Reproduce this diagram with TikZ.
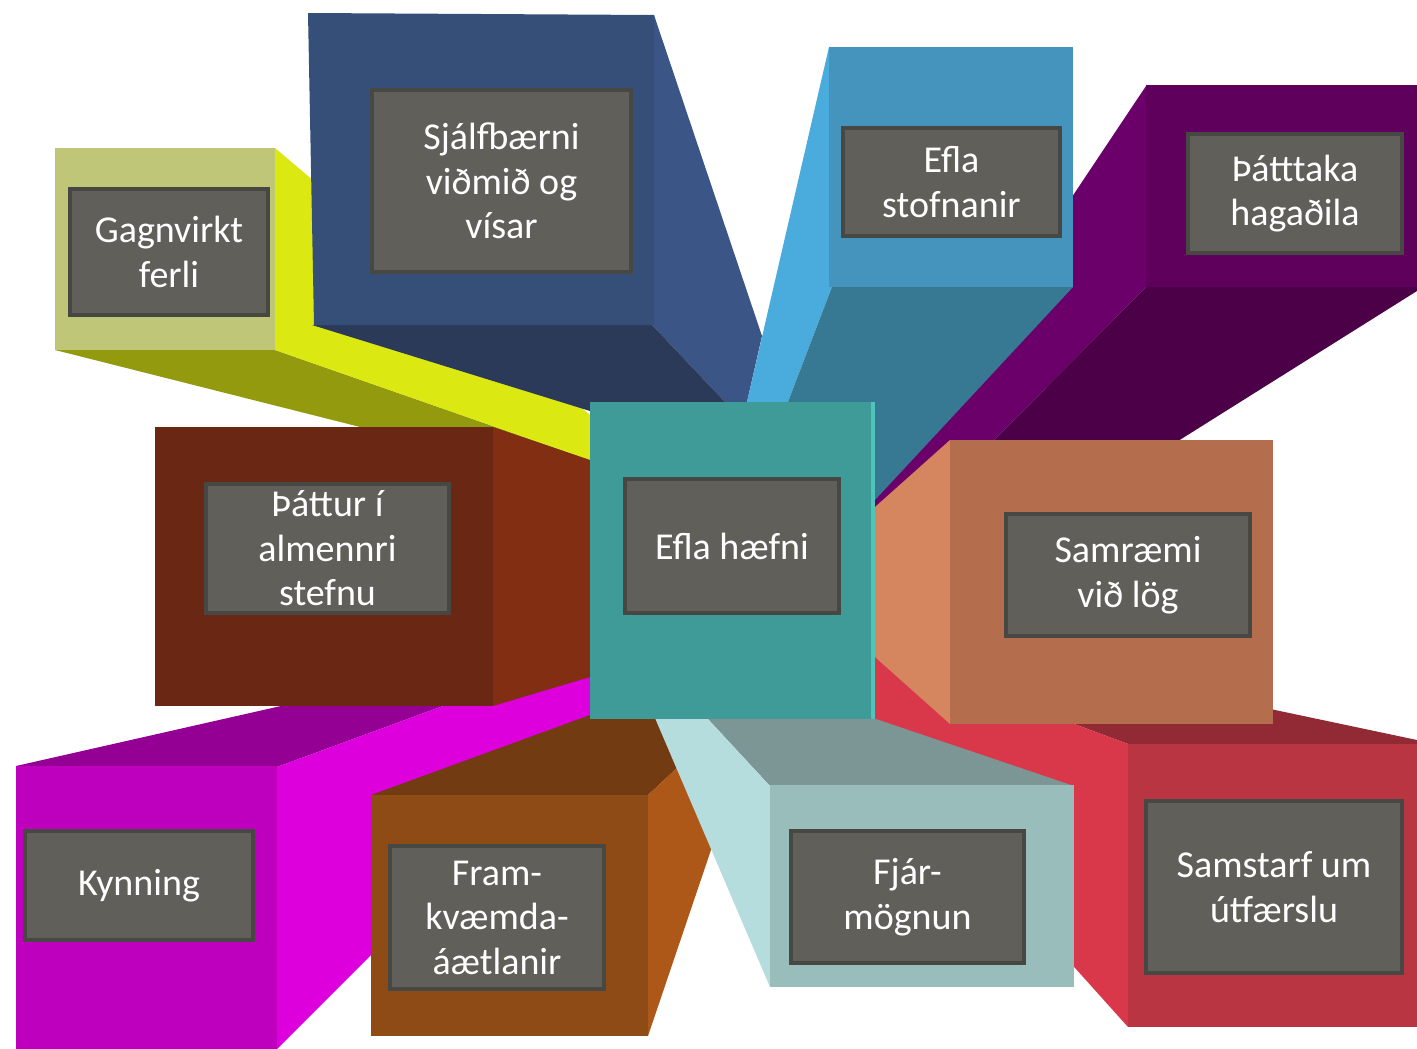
\documentclass[tikz,border=0pt]{standalone}
\usepackage{fontspec}
\setmainfont{Carlito}
\definecolor{yFront}{HTML}{C0C677}
\definecolor{ySide}{HTML}{DCE812}
\definecolor{yBottom}{HTML}{939A0D}
\definecolor{bFront}{HTML}{354F79}
\definecolor{bSide}{HTML}{3A5586}
\definecolor{bBottom}{HTML}{2A3A58}
\definecolor{lbFront}{HTML}{4494BD}
\definecolor{lbSide}{HTML}{4AABDD}
\definecolor{lbBottom}{HTML}{377993}
\definecolor{pFront}{HTML}{5E005C}
\definecolor{pSide}{HTML}{6B006B}
\definecolor{pBottom}{HTML}{4B0048}
\definecolor{brFront}{HTML}{6A2713}
\definecolor{brSide}{HTML}{822E13}
\definecolor{mFront}{HTML}{BE00BE}
\definecolor{mSide}{HTML}{DD00DD}
\definecolor{mTop}{HTML}{930093}
\definecolor{fFront}{HTML}{8F4B16}
\definecolor{fTop}{HTML}{733B12}
\definecolor{fSide}{HTML}{AD5819}
\definecolor{jFront}{HTML}{99BDBB}
\definecolor{jTop}{HTML}{7B9695}
\definecolor{jSide}{HTML}{B5DDDE}
\definecolor{rFront}{HTML}{BA3542}
\definecolor{rSide}{HTML}{D9384B}
\definecolor{rTop}{HTML}{922A35}
\definecolor{oFront}{HTML}{B56E4D}
\definecolor{oSide}{HTML}{D6865E}
\definecolor{cFront}{HTML}{3F9B98}
\definecolor{cEdge}{HTML}{4FC4BA}
\definecolor{lblFill}{HTML}{605F5A}
\definecolor{lblBorder}{HTML}{474744}
\tikzset{
  lbl/.style={draw=lblBorder, fill=lblFill, line width=3.5pt, inner sep=0pt},
  txt/.style={text=white, font=\fontsize{38}{44.5}\selectfont, align=center, inner sep=0pt}
}
\begin{document}
\begin{tikzpicture}[x=1pt,y=-1pt]
\useasboundingbox (0,0) rectangle (1417,1049);
% yellow / Gagnvirkt
\fill[yBottom] (55,350) -- (275,350) -- (590,460) -- (590,485) -- cycle;
\fill[ySide] (275,148) -- (590,415) -- (590,460) -- (275,350) -- cycle;
\fill[yFront] (55,148) rectangle (275,350);
% blue / Sjalfbaerni
\fill[bSide] (654,15) -- (762,336) -- (747,402) -- (725,402) -- (652,325) -- cycle;
\fill[bBottom] (312,325) -- (652,325) -- (725,402) -- (590,402) -- (590,411) -- cycle;
\fill[bFront] (308,13) -- (654,15) -- (654,325) -- (314,325) -- cycle;
% purple / Thatttaka
\fill[pSide] (1146,86) -- (1146,287) -- (875,560) -- (875,492) -- cycle;
\fill[pBottom] (1146,287) -- (1417,287) -- (1417,291) -- (1100,490) -- (875,560) -- cycle;
\fill[pFront] (1146,85) rectangle (1417,287);
% light blue / Efla stofnanir
\fill[lbSide] (829,47) -- (762,337) -- (747,402) -- (788,402) -- (832,287) -- cycle;
\fill[lbBottom] (832,287) -- (1073,287) -- (875,500) -- (875,402) -- (788,402) -- cycle;
\fill[lbFront] (829,47) rectangle (1073,287);
% magenta / Kynning
\fill[mTop] (16,766) -- (277,767) -- (590,652) -- (590,636) -- cycle;
\fill[mSide] (277,767) -- (590,652) -- (590,718) -- (371,955) -- (277,1049) -- cycle;
\fill[mFront] (16,766) rectangle (277,1049);
% brown / Thattur
\fill[brSide] (493,427) -- (590,460) -- (590,677) -- (493,706) -- cycle;
\fill[brFront] (155,427) rectangle (493,706);
% Fram
\fill[fTop] (371,795) -- (590,715) -- (590,718) -- (658,718) -- (678,767) -- (648,795) -- cycle;
\fill[fSide] (648,795) -- (678,767) -- (712,847) -- (648,1036) -- cycle;
\fill[fFront] (371,795) rectangle (648,1036);
% red / Samstarf
\fill[rTop] (875,650) -- (1128,744) -- (1417,744) -- (1417,740) -- (1275,710) -- (1000,640) -- cycle;
\fill[rSide] (875,650) -- (1128,744) -- (1128,1027) -- (875,745) -- cycle;
\fill[rFront] (1128,744) rectangle (1417,1027);
% orange / Samraemi
\fill[oSide] (875,507) -- (950,440) -- (950,724) -- (875,657) -- cycle;
\fill[oFront] (950,440) rectangle (1273,724);
% Fjar
\fill[jTop] (707,718) -- (873,718) -- (1074,786) -- (770,786) -- cycle;
\fill[jSide] (655,718) -- (707,718) -- (770,786) -- (770,987) -- cycle;
\fill[jFront] (770,785) rectangle (1074,987);
% center
\fill[cFront] (590,402) rectangle (875,719);
\fill[cEdge] (871,402) rectangle (875,719);
% label boxes
\node[lbl, minimum width=198pt, minimum height=126pt] (gagnbox) at (169,252) {};
\node[txt] (gagntxt) at (gagnbox) {Gagnvirkt\\ferli};
\node[lbl, minimum width=259pt, minimum height=182pt] (sjalfbox) at (501.5,181) {};
\node[txt] (sjalftxt) at (sjalfbox) {Sjálfbærni\\viðmið og\\vísar};
\node[lbl, minimum width=217pt, minimum height=108pt] (stofnbox) at (951.5,182) {};
\node[txt] (stofntxt) at (stofnbox) {Efla\\stofnanir};
\node[lbl, minimum width=214pt, minimum height=119pt] (thatbox) at (1295,193.5) {};
\node[txt] (thattxt) at (thatbox) {Þátttaka\\hagaðila};
\node[lbl, minimum width=243pt, minimum height=129pt] (stefbox) at (327.5,548.5) {};
\node[txt] (steftxt) at (stefbox) {Þáttur í\\almennri\\stefnu};
\node[lbl, minimum width=214pt, minimum height=134pt] (haefbox) at (732,546) {};
\node[txt] (haeftxt) at (haefbox) {Efla hæfni};
\node[lbl, minimum width=244pt, minimum height=122pt] (logbox) at (1128,575) {};
\node[txt] (logtxt) at (logbox) {Samræmi\\við lög};
\node[lbl, minimum width=228pt, minimum height=109pt] (kynbox) at (139,885.5) {};
\node[txt] (kyntxt) at (kynbox) {Kynning};
\node[lbl, minimum width=214pt, minimum height=143pt] (frambox) at (497,917.5) {};
\node[txt] (framtxt) at (frambox) {Fram-\\kvæmda-\\áætlanir};
\node[lbl, minimum width=233pt, minimum height=132pt] (fjarbox) at (907.5,897) {};
\node[txt] (fjartxt) at (fjarbox) {Fjár-\\mögnun};
\node[lbl, minimum width=256pt, minimum height=172pt] (samsbox) at (1274,887) {};
\node[txt] (samstxt) at (samsbox) {Samstarf um\\útfærslu};
\end{tikzpicture}
\end{document}
